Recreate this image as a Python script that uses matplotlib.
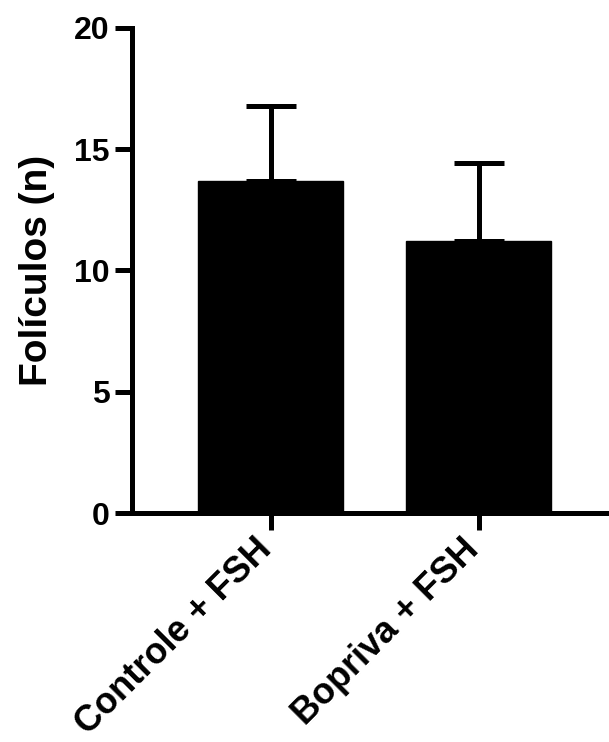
import matplotlib
matplotlib.use("Agg")
import matplotlib.pyplot as plt

categories = ["Controle + FSH", "Bopriva + FSH"]
means = [13.7, 11.2]
errors_up = [3.1, 3.25]
yticks = [0, 5, 10, 15, 20]

plt.rcParams['font.family'] = ['Liberation Sans', 'DejaVu Sans']
plt.rcParams['font.weight'] = 'bold'

fig = plt.figure(figsize=(6.09, 7.42), dpi=100)
ax = fig.add_axes([0.2167, 0.3086, 0.7833, 0.6537])

x = list(range(len(categories)))
lw = 3.6
ax.bar(x, means, width=0.70, color='black', edgecolor='black', zorder=2)
ax.errorbar(x, means, yerr=[[0]*len(means), errors_up], fmt='none',
            ecolor='black', elinewidth=lw, capsize=18, capthick=lw, zorder=1)

ax.set_xlim(-0.666, 1.627)
ax.set_ylim(0, 20)
ax.set_yticks(yticks)
ax.set_yticklabels([str(t) for t in yticks], fontsize=23, fontweight='bold')
ax.set_xticks(x)
ax.set_xticklabels([''] * len(categories))
for xi, cat in zip(x, categories):
    ax.annotate(cat, xy=(xi, 0), xycoords=('data', 'axes fraction'),
                xytext=(-3.2, -22.6), textcoords='offset points',
                rotation=45, ha='right', va='center', rotation_mode='anchor',
                fontsize=26, fontweight='bold', annotation_clip=False)
ax.set_ylabel('Folículos (n)', fontsize=28, fontweight='bold', labelpad=14)

for s in ['top', 'right']:
    ax.spines[s].set_visible(False)
for s in ['left', 'bottom']:
    ax.spines[s].set_linewidth(lw)
ax.tick_params(axis='both', width=lw, length=12, pad=4)

fig.savefig('out.png', dpi=100)
